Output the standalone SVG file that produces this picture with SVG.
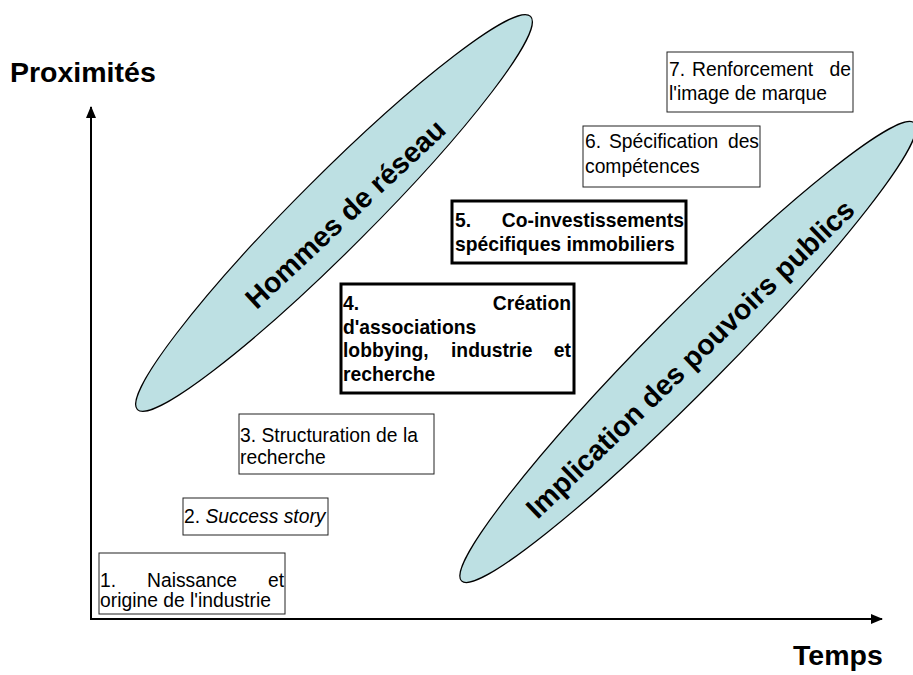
<svg xmlns="http://www.w3.org/2000/svg" width="913" height="675" viewBox="0 0 913 675">
  <style>
    .bg { fill: #ffffff; }
    .band { fill: #bde0e3; stroke: #000000; stroke-width: 1.2; }
    .band-label { font-family: "Liberation Sans", Arial, sans-serif; font-weight: bold; font-size: 28.5px; fill: #000000; text-anchor: middle; }
    .axis-title { font-family: "Liberation Sans", Arial, sans-serif; font-weight: bold; font-size: 28.5px; fill: #000000; }
    .box { fill: #ffffff; stroke: #222222; stroke-width: 1; }
    .box-strong { fill: #ffffff; stroke: #000000; stroke-width: 3; }
    .t { font-family: "Liberation Sans", Arial, sans-serif; font-size: 19.3px; fill: #000000; }
    .tb { font-family: "Liberation Sans", Arial, sans-serif; font-size: 19.3px; font-weight: bold; fill: #000000; }
    .end { text-anchor: end; }
    .axis { stroke: #000000; stroke-width: 2; fill: none; }
  </style>
  <defs>
    <marker id="arrow" viewBox="0 0 12 10" refX="11" refY="5" markerWidth="12" markerHeight="10" markerUnits="userSpaceOnUse" orient="auto">
      <path d="M0,0 L12,5 L0,10 Z" fill="#000000"/>
    </marker>
  </defs>

  <rect class="bg" x="0" y="0" width="913" height="675"/>

  <!-- axis titles -->
  <text class="axis-title" x="10" y="82">Proximités</text>
  <text class="axis-title" x="793" y="665">Temps</text>

  <!-- diagonal bands -->
  <g id="hommes-de-reseau">
    <ellipse class="band" cx="334" cy="213" rx="278" ry="37" transform="rotate(-45 334 213)"/>
    <text class="band-label" x="352" y="221" transform="rotate(-43 352 221)">Hommes de réseau</text>
  </g>
  <g id="implication-pouvoirs-publics">
    <ellipse class="band" cx="688" cy="352" rx="322" ry="38" transform="rotate(-45.3 688 352)"/>
    <text class="band-label" x="697" y="366" transform="rotate(-44 697 366)">Implication des pouvoirs publics</text>
  </g>

  <!-- axes -->
  <g id="connectors">
    <line class="axis" x1="91" y1="619" x2="91" y2="107" marker-end="url(#arrow)"/>
    <line class="axis" x1="90" y1="619" x2="882" y2="619" marker-end="url(#arrow)"/>
  </g>

  <!-- stages -->
  <g id="stage-1">
    <rect class="box" x="99" y="553" width="186" height="61"/>
    <text class="t" x="100" y="587">1.</text>
    <text class="t" x="147" y="587">Naissance</text>
    <text class="t end" x="284" y="587">et</text>
    <text class="t" x="100" y="607">origine de l'industrie</text>
  </g>

  <g id="stage-2">
    <rect class="box" x="183" y="498" width="145" height="37"/>
    <text class="t" x="184" y="523">2. <tspan font-style="italic">Success story</tspan></text>
  </g>

  <g id="stage-3">
    <rect class="box" x="239" y="414" width="195" height="60"/>
    <text class="t" x="240" y="442">3. Structuration de la</text>
    <text class="t" x="240" y="464">recherche</text>
  </g>

  <g id="stage-4">
    <rect class="box-strong" x="341" y="284" width="233" height="109"/>
    <text class="tb" x="343" y="310">4.</text>
    <text class="tb end" x="571" y="310">Création</text>
    <text class="tb" x="343" y="334">d'associations</text>
    <text class="tb" x="343" y="357">lobbying,</text>
    <text class="tb" x="451" y="357">industrie</text>
    <text class="tb end" x="571" y="357">et</text>
    <text class="tb" x="343" y="381">recherche</text>
  </g>

  <g id="stage-5">
    <rect class="box-strong" x="452" y="201" width="234" height="62"/>
    <text class="tb" x="455" y="227">5.</text>
    <text class="tb end" x="684" y="227">Co-investissements</text>
    <text class="tb" x="455" y="251">spécifiques immobiliers</text>
  </g>

  <g id="stage-6">
    <rect class="box" x="583" y="126" width="177" height="61"/>
    <text class="t" x="585" y="148">6.</text>
    <text class="t" x="609" y="148">Spécification</text>
    <text class="t end" x="759" y="148">des</text>
    <text class="t" x="585" y="173">compétences</text>
  </g>

  <g id="stage-7">
    <rect class="box" x="667" y="52" width="186" height="60"/>
    <text class="t" x="669" y="76">7.</text>
    <text class="t" x="692" y="76">Renforcement</text>
    <text class="t end" x="851" y="76">de</text>
    <text class="t" x="669" y="100">l'image de marque</text>
  </g>
</svg>
